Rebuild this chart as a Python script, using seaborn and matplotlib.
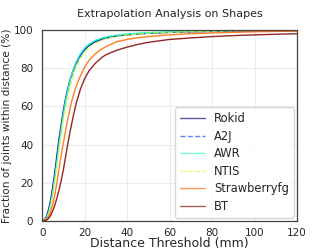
import numpy as np
import pandas as pd
import matplotlib
matplotlib.use("Agg")
import matplotlib.pyplot as plt
import seaborn as sns

distance = [0, 1, 2, 3, 4, 5, 6, 7, 8, 9, 10, 11, 12, 13, 14, 15, 16, 18, 20, 22, 25, 28, 30,
            35, 40, 45, 50, 60, 70, 80, 90, 100, 110, 120]

rokid = [0, 0.6, 2.5, 6, 11, 18, 26, 35, 43.5, 51, 58, 64, 69, 73.5, 77, 80, 82.8, 86.8, 89.8, 91.8,
         93.8, 95, 95.7, 96.8, 97.4, 97.9, 98.2, 98.7, 99, 99.2, 99.4, 99.5, 99.6, 99.7]
a2j = [0, 0.5, 2.1, 5.2, 9.8, 16.5, 24.3, 33, 41.5, 49.2, 56.3, 62.6, 67.9, 72.5, 76.2, 79.4, 82.2,
       86.5, 89.6, 91.8, 93.9, 95.1, 95.8, 96.9, 97.5, 98.0, 98.3, 98.8, 99.1, 99.3, 99.5, 99.6, 99.7, 99.8]
awr = [0, 0.4, 1.7, 4.5, 9, 15.2, 23, 31.5, 40.5, 48.5, 56, 62.8, 68.3, 73, 77, 80.4, 83.3, 87.6,
       90.6, 92.6, 94.6, 95.8, 96.4, 97.3, 97.9, 98.3, 98.6, 99.0, 99.3, 99.5, 99.6, 99.7, 99.8, 99.9]
ntis = [0, 0.3, 1.4, 3.9, 8, 13.8, 21, 29.2, 38, 46, 53, 59.5, 65, 69.8, 74, 77.5, 80.5, 85, 88.5,
        90.8, 93, 94.5, 95.3, 96.5, 97.3, 97.8, 98.2, 98.7, 99.0, 99.3, 99.5, 99.6, 99.7, 99.8]
strawberryfg = [0, 0.2, 0.9, 2.5, 5, 8.8, 14, 20.5, 28, 34.8, 41, 47.2, 53, 58.3, 63, 67, 70.5, 76,
                80.5, 84, 87.5, 90, 91.2, 93.8, 95.0, 95.9, 96.5, 97.4, 98.0, 98.4, 98.7, 99.0, 99.2, 99.3]
bt = [0, 0.1, 0.5, 1.4, 3, 5.5, 8.5, 12.3, 16.5, 21.5, 27, 33.5, 40, 46, 51.5, 56.8, 61.5, 69, 74.5,
      78.5, 82.5, 85.5, 87, 89.3, 91, 92.4, 93.5, 95, 95.8, 96.5, 97, 97.4, 97.7, 98]

methods = ["Rokid", "A2J", "AWR", "NTIS", "Strawberryfg", "BT"]
series = [rokid, a2j, awr, ntis, strawberryfg, bt]
dashed = {"A2J", "NTIS"}

df = pd.concat(
    [pd.DataFrame({"distance": distance, "fraction": vals, "method": m}) for m, vals in zip(methods, series)],
    ignore_index=True,
)

sns.set_style("whitegrid", {"grid.color": "#ececec", "axes.edgecolor": "#444444"})
plt.rcParams["font.family"] = ["DejaVu Sans"]

fig = plt.figure(figsize=(3.32, 2.49), dpi=100)
ax = fig.add_axes([0.127, 0.112, 0.768, 0.768])

colors = plt.cm.jet(np.linspace(0, 1, len(methods)))
for m, c in zip(methods, colors):
    sub = df[df["method"] == m]
    sns.lineplot(
        data=sub, x="distance", y="fraction", ax=ax, color=c, label=m,
        linewidth=1.0, linestyle="--" if m in dashed else "-", alpha=0.85,
    )

ax.set_xlim(0, 120)
ax.set_ylim(0, 100)
ax.set_xticks([0, 20, 40, 60, 80, 100, 120])
ax.set_yticks([0, 20, 40, 60, 80, 100])
ax.tick_params(axis="x", labelsize=7.5, pad=1.5)
ax.tick_params(axis="y", labelsize=7.5, pad=3)
ax.set_xlabel("Distance Threshold (mm)", fontsize=9, labelpad=-0.5)
ax.set_ylabel("Fraction of joints within distance (%)", fontsize=7.6, labelpad=1)
ax.set_title("Extrapolation Analysis on Shapes", fontsize=8, pad=9)
for s in ax.spines.values():
    s.set_linewidth(0.9)
leg = ax.legend(loc="lower right", fontsize=8.3, frameon=True, handlelength=2.2,
                labelspacing=0.4, borderaxespad=0.3)
for h in leg.get_lines():
    h.set_alpha(0.65)

plt.savefig("out.png", dpi=100)
